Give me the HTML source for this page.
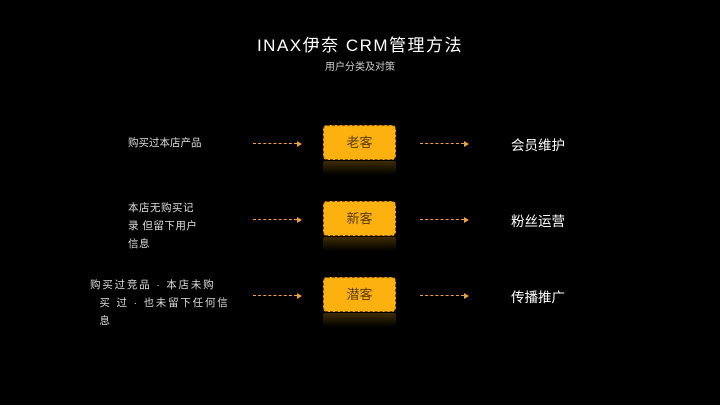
<!DOCTYPE html>
<html><head><meta charset="utf-8"><style>
body{margin:0;width:720px;height:405px;background:#000;overflow:hidden;position:relative;font-family:"Liberation Sans","Noto Sans CJK SC",sans-serif;color:#eee}
.a{position:absolute}
.box{position:absolute;left:323px;width:71px;height:33px;background:#fdb10f;border:1px dashed #7a4a00;border-radius:4px;color:#5a3a00;font-size:13px;text-align:center;line-height:33px}
.ref{position:absolute;left:323px;width:73px;height:14px;background:linear-gradient(#5a4000,#000);opacity:.7;border-radius:2px}
.arr{position:absolute;height:0;border-top:1px dashed #f0a040;width:44px}
.arr:after{content:"";position:absolute;right:-5px;top:-3.5px;border-left:5px solid #f0a040;border-top:3px solid transparent;border-bottom:3px solid transparent}
.r{position:absolute;left:511px;font-size:13.5px;color:#fff}
.l{position:absolute;font-size:10.5px;line-height:18px;color:#ddd;white-space:nowrap}
</style></head><body>
<div class="a" style="left:0;width:720px;top:31px;text-align:center;font-size:17px;letter-spacing:1.5px;color:#fff">INAX伊奈 CRM管理方法</div>
<div class="a" style="left:0;width:720px;top:58px;text-align:center;font-size:10px;color:#ccc">用户分类及对策</div>

<div class="l" style="left:128px;top:134px">购买过本店产品</div>
<div class="l" style="left:128px;top:199px;letter-spacing:0.5px">本店无购买记<br>录 但留下用户<br>信息</div>
<div class="l" style="left:90px;top:276px;letter-spacing:1.8px">购买过竞品 · 本店未购<br>&nbsp;&nbsp;买 过 · 也未留下任何信<br>&nbsp;&nbsp;息</div>

<div class="arr" style="left:253px;top:143px"></div>
<div class="arr" style="left:253px;top:219px"></div>
<div class="arr" style="left:253px;top:295px"></div>
<div class="arr" style="left:420px;top:143px"></div>
<div class="arr" style="left:420px;top:219px"></div>
<div class="arr" style="left:420px;top:295px"></div>

<div class="box" style="top:125px">老客</div><div class="ref" style="top:161px"></div>
<div class="box" style="top:201px">新客</div><div class="ref" style="top:237px"></div>
<div class="box" style="top:277px">潜客</div><div class="ref" style="top:313px"></div>

<div class="r" style="top:134px">会员维护</div>
<div class="r" style="top:210px">粉丝运营</div>
<div class="r" style="top:286px">传播推广</div>
</body></html>
